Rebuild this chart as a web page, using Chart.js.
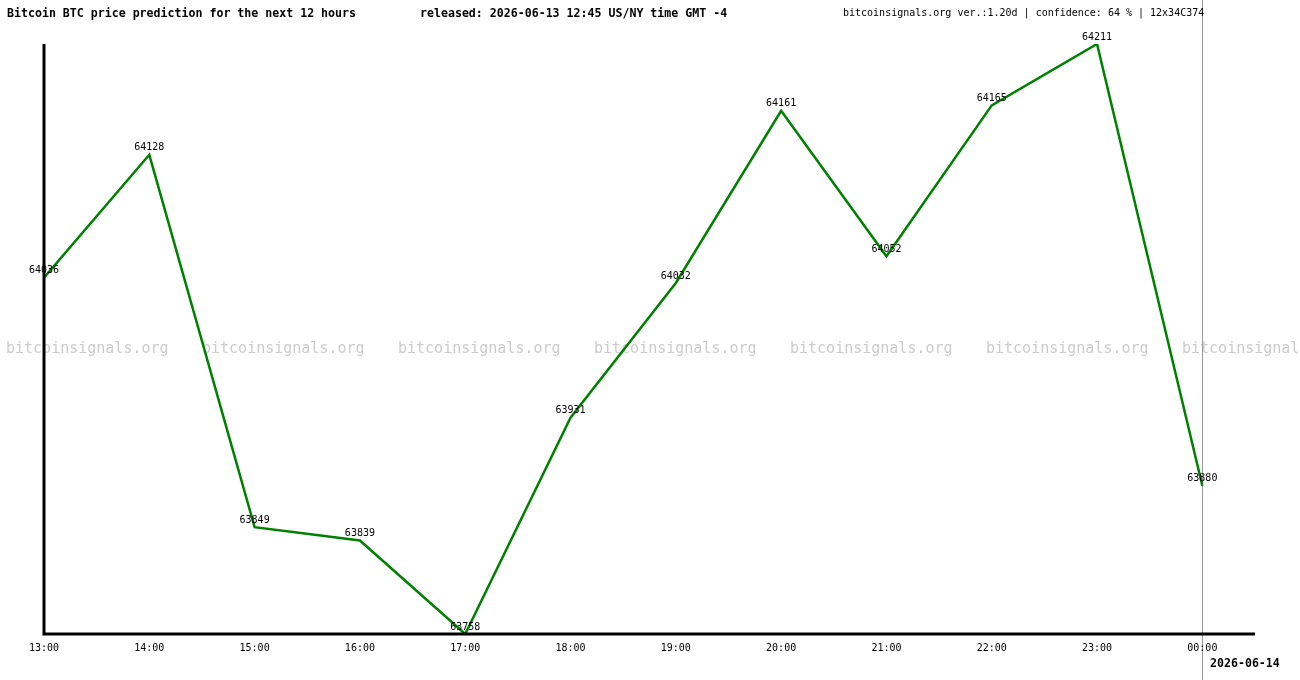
<!DOCTYPE html>
<html>
<head>
<meta charset="utf-8">
<script src="https://cdn.jsdelivr.net/npm/chart.js@4/dist/chart.umd.min.js"></script>
<style>
  html, body { margin: 0; padding: 0; background: #fff; }
  #wrap { position: relative; width: 1300px; height: 680px; overflow: hidden; }
  canvas { position: absolute; left: 0; top: 0; }
  .txt { position: absolute; font-family: "DejaVu Sans Mono", monospace; color: #000; white-space: pre; }
  .bold { font-weight: bold; font-size: 11.6px; }
</style>
</head>
<body>
<div id="wrap">
  <canvas id="chart" width="1300" height="680"></canvas>
  <div class="txt bold" style="left:7px; top:6px;">Bitcoin BTC price prediction for the next 12 hours</div>
  <div class="txt bold" style="left:420px; top:6px;">released: 2026-06-13 12:45 US/NY time GMT -4</div>
  <div class="txt" style="left:843px; top:7px; font-size:10px;">bitcoinsignals.org ver.:1.20d | confidence: 64 % | 12x34C374</div>
  <div class="txt bold" style="left:1210px; top:656px;">2026-06-14</div>
</div>
<script>
// hours shown on the x axis
var hours = ['13:00', '14:00', '15:00', '16:00', '17:00', '18:00', '19:00', '20:00', '21:00', '22:00', '23:00', '00:00'];
// predicted BTC price for each hour
var prices = [64036, 64128, 63849, 63839, 63758, 63931, 64032, 64161, 64052, 64165, 64211, 63880];
// y axis range of the original picture (the lowest point sits on the axis)
var yMin = 63769;
var yMax = 64211;
var watermark = 'bitcoinsignals.org';

var mono = '"DejaVu Sans Mono", monospace';

var overlay = {
    id: 'overlay',
    beforeDatasetsDraw: function (chart) {
        var c = chart.ctx;
        c.save();
        // watermark row
        c.font = '15px ' + mono;
        c.fillStyle = '#cccccc';
        c.textBaseline = 'middle';
        c.textAlign = 'left';
        for (var x = 6; x < 1300; x += 196) {
            c.fillText(watermark, x, 349);
        }
        // gray line at midnight
        var xs = chart.scales.x;
        var xm = Math.round(xs.getPixelForValue(hours.length - 1)) + 0.5;
        c.strokeStyle = '#999999';
        c.lineWidth = 1;
        c.beginPath();
        c.moveTo(xm, 0);
        c.lineTo(xm, 680);
        c.stroke();
        c.restore();
    },
    afterDatasetsDraw: function (chart) {
        var c = chart.ctx;
        var a = chart.chartArea;
        var xs = chart.scales.x;
        var meta = chart.getDatasetMeta(0);
        c.save();
        // axes
        c.strokeStyle = '#000';
        c.lineWidth = 3;
        c.beginPath();
        c.moveTo(a.left, a.top);
        c.lineTo(a.left, a.bottom);
        c.lineTo(a.right, a.bottom);
        c.stroke();
        // tick labels
        c.font = '10px ' + mono;
        c.fillStyle = '#000';
        c.textAlign = 'center';
        c.textBaseline = 'middle';
        hours.forEach(function (h, i) {
            c.fillText(h, xs.getPixelForValue(i), 648);
        });
        // value labels above each point
        c.textBaseline = 'bottom';
        meta.data.forEach(function (pt, i) {
            c.fillText(String(prices[i]), pt.x, pt.y - 2);
        });
        c.restore();
    }
};

var ctx = document.getElementById('chart').getContext('2d');
var chart = new Chart(ctx, {
    type: 'line',
    data: {
        datasets: [{
            data: prices.map(function (v, i) { return { x: i, y: Math.max(v, yMin) }; }),
            borderColor: '#008000',
            borderWidth: 2.5,
            pointRadius: 0,
            tension: 0,
            fill: false
        }]
    },
    options: {
        responsive: false,
        animation: false,
        events: [],
        layout: { padding: { left: 44, right: 45, top: 44, bottom: 46 } },
        plugins: { legend: { display: false }, tooltip: { enabled: false } },
        scales: {
            x: { type: 'linear', display: false, min: 0, max: 11.5 },
            y: { display: false, min: yMin, max: yMax }
        }
    },
    plugins: [overlay]
});
</script>
</body>
</html>
